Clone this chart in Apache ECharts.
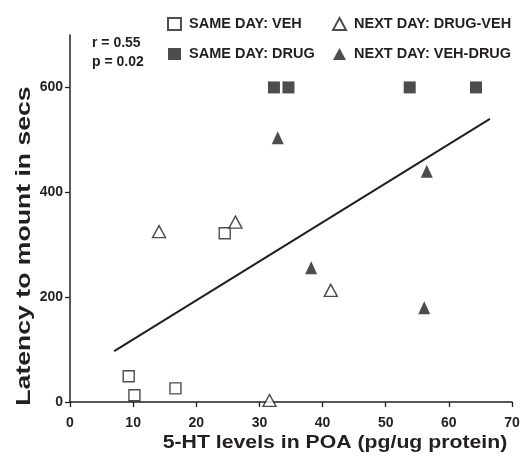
<!DOCTYPE html>
<html>
<head>
<meta charset="utf-8">
<script src="https://cdn.jsdelivr.net/npm/echarts@6/dist/echarts.min.js"></script>
<style>
  html, body { margin: 0; padding: 0; background: #fff; }
  #chart { width: 523px; height: 458px; }
</style>
</head>
<body>
<div id="chart"></div>
<script>
// values: [5-HT pg/ug, latency secs]
const sameDayVeh = [[9.3, 49], [10.2, 13], [16.7, 26], [24.5, 322]]
const sameDayDrug = [[32.3, 600], [34.6, 600], [53.8, 600], [64.3, 600]]
const nextDayDrugVeh = [[14.1, 325], [26.2, 343], [41.3, 213], [31.6, 3]]
const nextDayVehDrug = [[32.9, 504], [38.2, 256], [56.5, 440], [56.1, 180]]

// regression line ends
const fitLine = [[7.0, 97], [66.5, 540]]

const xTicks = [0, 10, 20, 30, 40, 50, 60, 70]
const yTicks = [0, 200, 400, 600]

const FONT = 'Liberation Sans, Arial, sans-serif'
const INK = '#231f20'

const chart = echarts.init(document.getElementById('chart'), null, { renderer: 'canvas' })

const legendText = { fontFamily: FONT, fontWeight: 'bold', fontSize: 14.5, color: INK, lineHeight: 16, padding: [0, 0, 0, 3] }

const openStyle = { color: '#fff', borderColor: INK, borderWidth: 1.4 }
const fillStyle = { color: INK, borderColor: INK, borderWidth: 0 }

chart.setOption({
  animation: false,
  grid: { left: 70, right: 11, top: 35, bottom: 56 },
  legend: [
    {
      data: ['SAME DAY: VEH', 'SAME DAY: DRUG'],
      orient: 'vertical',
      left: 167,
      top: 16,
      padding: 0,
      itemGap: 14,
      itemWidth: 13,
      itemHeight: 12,
      textStyle: legendText
    },
    {
      data: ['NEXT DAY: DRUG-VEH', 'NEXT DAY: VEH-DRUG'],
      orient: 'vertical',
      left: 332,
      top: 16,
      padding: 0,
      itemGap: 14,
      itemWidth: 13,
      itemHeight: 12,
      textStyle: legendText
    }
  ],
  xAxis: {
    type: 'value',
    min: 0,
    max: 70,
    interval: 10,
    axisLine: { show: true, onZero: false, lineStyle: { color: INK, width: 1.5 } },
    axisTick: { show: true, length: 5, lineStyle: { color: INK, width: 1.3 }, customValues: xTicks },
    axisLabel: { customValues: xTicks, margin: 14, fontFamily: FONT, fontWeight: 'bold', fontSize: 14, color: INK },
    splitLine: { show: false }
  },
  yAxis: {
    type: 'value',
    min: 0,
    max: 700,
    interval: 200,
    axisLine: { show: true, lineStyle: { color: INK, width: 1.5 } },
    axisTick: { show: true, length: 5, lineStyle: { color: INK, width: 1.3 }, customValues: yTicks },
    axisLabel: {
      customValues: yTicks, margin: 7, fontFamily: FONT, fontWeight: 'bold', fontSize: 14, color: INK,
      padding: [0, 0, 6, 0]
    },
    splitLine: { show: false }
  },
  graphic: [
    {
      type: 'text', x: 24, y: 246, rotation: Math.PI / 2, scaleX: 1.33,
      style: { text: 'Latency to mount in secs', font: 'bold 20px ' + FONT, fill: INK, align: 'center', verticalAlign: 'middle' }
    },
    {
      type: 'text', x: 335, y: 443, scaleX: 1.18,
      style: { text: '5-HT levels in POA (pg/ug protein)', font: 'bold 18px ' + FONT, fill: INK, align: 'center', verticalAlign: 'middle' }
    },
    {
      type: 'text', left: 92, top: 36,
      style: { text: 'r = 0.55', font: 'bold 14px ' + FONT, fill: INK }
    },
    {
      type: 'text', left: 92, top: 55,
      style: { text: 'p = 0.02', font: 'bold 14px ' + FONT, fill: INK }
    }
  ],
  series: [
    {
      name: 'fit',
      type: 'line',
      data: fitLine,
      symbol: 'none',
      lineStyle: { color: INK, width: 2 },
      silent: true,
      z: 1
    },
    {
      name: 'SAME DAY: VEH',
      type: 'scatter',
      symbol: 'rect',
      symbolSize: 11,
      itemStyle: openStyle,
      data: sameDayVeh,
      z: 3
    },
    {
      name: 'SAME DAY: DRUG',
      type: 'scatter',
      symbol: 'rect',
      symbolSize: 12,
      itemStyle: fillStyle,
      data: sameDayDrug,
      z: 3
    },
    {
      name: 'NEXT DAY: DRUG-VEH',
      type: 'scatter',
      symbol: 'triangle',
      symbolSize: [13, 12],
      itemStyle: openStyle,
      data: nextDayDrugVeh,
      z: 3
    },
    {
      name: 'NEXT DAY: VEH-DRUG',
      type: 'scatter',
      symbol: 'triangle',
      symbolSize: [12, 13],
      itemStyle: fillStyle,
      data: nextDayVehDrug,
      z: 3
    }
  ]
})
</script>
</body>
</html>
